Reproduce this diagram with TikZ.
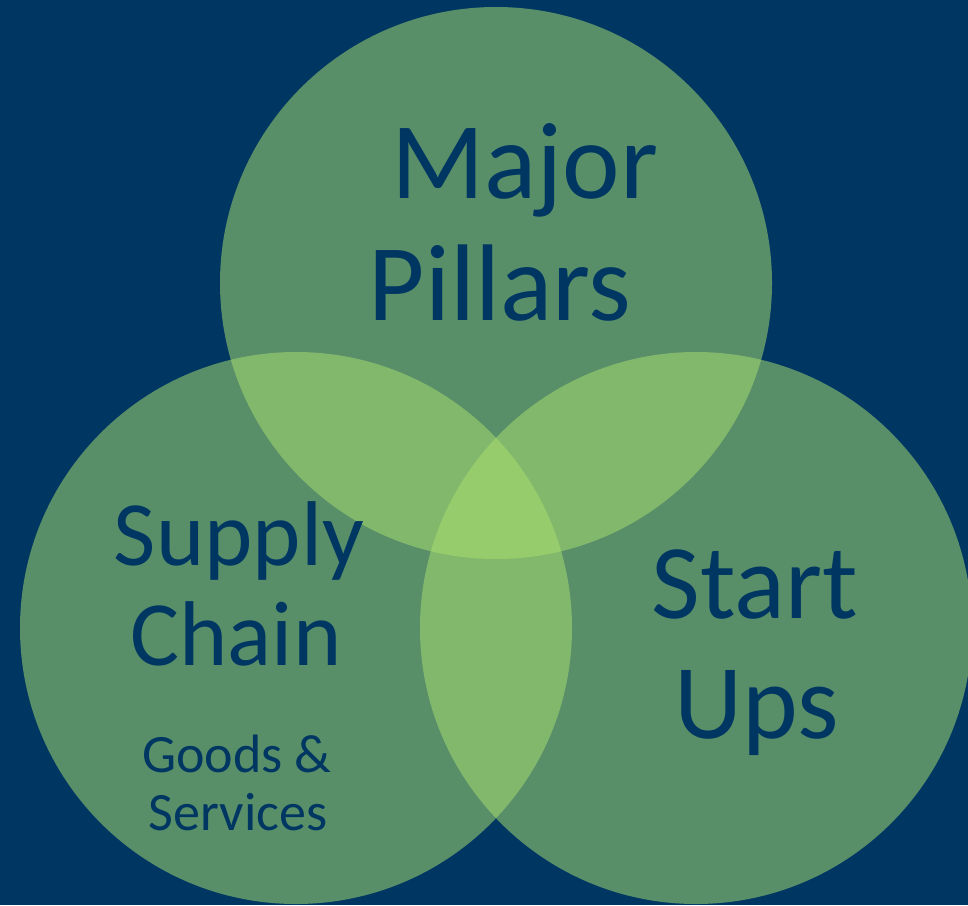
\documentclass[tikz,border=0pt]{standalone}
\usepackage{fontspec}
\setmainfont{Carlito}
\definecolor{navy}{RGB}{0,54,98}
\definecolor{leaf}{RGB}{169,223,110}
\tikzset{
    ring/.style={
        circle,
        minimum size=552pt,
        inner sep=0pt,
        outer sep=0pt,
        fill=leaf,
        fill opacity=0.52
    },
    words/.style={
        text=navy,
        inner sep=0pt,
        anchor=base
    }
}
\newcommand{\vennsize}[1]{\fontsize{#1}{#1}\selectfont}

\begin{document}
\begin{tikzpicture}[x=1pt,y=-1pt]
    \useasboundingbox (0,0) rectangle (968,905);
    \fill[navy] (0,0) rectangle (968,905);
    \clip (0,0) rectangle (968,905);
    % the three circles
    \node[ring] (top) at (496,283) {};
    \node[ring] (left) at (296,628) {};
    \node[ring] (right) at (696,628) {};
    % labels
    \node[words,font=\vennsize{109}] (major) at (525,198) {Major};
    \node[words,font=\vennsize{109}] (pillars) at (500,320) {Pillars};
    \node[words,font=\vennsize{92}] (supply) at (239,565) {Supply};
    \node[words,font=\vennsize{92}] (chain) at (236,665) {Chain};
    \node[words,font=\vennsize{54}] (goods) at (237,772) {Goods \&};
    \node[words,font=\vennsize{54}] (services) at (238,830) {Services};
    \node[words,font=\vennsize{106}] (start) at (755,618) {Start};
    \node[words,font=\vennsize{106}] (ups) at (757,738) {Ups};
\end{tikzpicture}
\end{document}
